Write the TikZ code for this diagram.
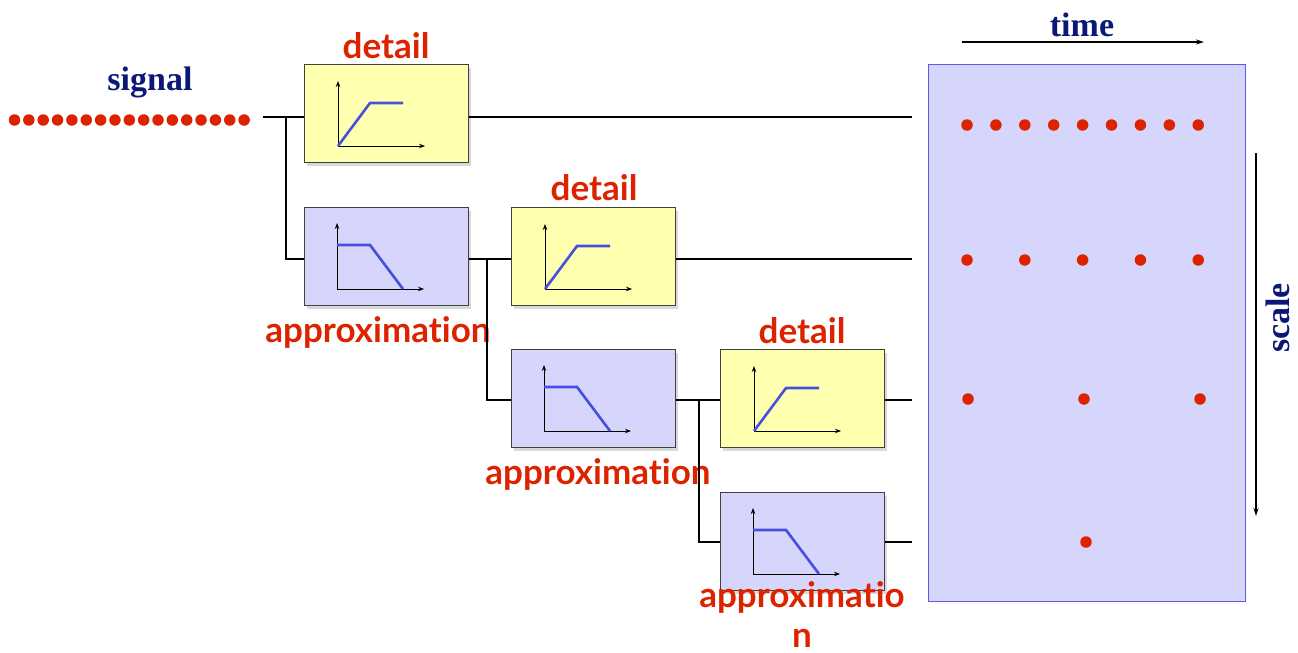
\documentclass[tikz,border=0pt]{standalone}
\usepackage{fontspec}
\setmainfont{Liberation Serif}
\newfontfamily\labfont[Ligatures=NoCommon]{Lato}
\newfontfamily\axfont{Liberation Serif}
\usetikzlibrary{arrows.meta,shadows}
\definecolor{sigred}{RGB}{221,34,0}
\definecolor{navyb}{RGB}{12,24,120}
\definecolor{boxyel}{RGB}{255,255,176}
\definecolor{boxlav}{RGB}{214,214,252}
\definecolor{plotblue}{RGB}{70,80,220}
\definecolor{panelb}{RGB}{90,90,230}
\tikzset{
  x=1pt, y=-1pt,
  filt/.style={draw=black!75, line width=1pt, minimum width=164pt, minimum height=98pt, inner sep=0pt, anchor=north west,
    drop shadow={shadow xshift=2pt, shadow yshift=-3pt, opacity=0.25, fill=black!60}},
  detbox/.style={filt, fill=boxyel},
  appbox/.style={filt, fill=boxlav},
  wire/.style={line width=2.6pt, black},
  redlab/.style={text=sigred, font=\labfont\bfseries\fontsize{35}{35}\selectfont, inner sep=0pt},
  bluelab/.style={text=navyb, font=\axfont\bfseries\fontsize{34}{34}\selectfont, inner sep=0pt},
  dot/.style={circle, fill=sigred, inner sep=0pt, minimum size=11.5pt},
  axis/.style={line width=0.9pt, -{Stealth[length=6pt,width=4.5pt]}},
  curve/.style={plotblue, line width=2.6pt},
  pics/rampgraph/.style={code={
    \draw[axis] (34,82) -- (34,17);
    \draw[axis] (34,82) -- (121,82);
    \draw[curve] (34,82) -- (66,39) -- (99,39);
  }},
  pics/lowgraph/.style={code={
    \draw[axis] (33,82) -- (33,16);
    \draw[axis] (33,82) -- (120,82);
    \draw[curve] (33,38) -- (66,38) -- (99,82);
  }}
}
\begin{document}
\begin{tikzpicture}
\useasboundingbox (0,0) rectangle (1298,653);

% signal
\node[bluelab] (sig) at (150,82) {signal};
\foreach \i in {0,...,16} {\node[dot] (s\i) at ({14.5+\i*14.35},120) {};}

% boxes
\node[detbox] (b1) at (304,64) {};
\node[appbox] (b2) at (304,207) {};
\node[detbox] (b3) at (511,207) {};
\node[appbox] (b4) at (511,349) {};
\node[detbox] (b5) at (720,349) {};
\node[appbox] (b6) at (720,492) {};

\pic at (b1.north west) {rampgraph};
\pic at (b3.north west) {rampgraph};
\pic at (b5.north west) {rampgraph};
\pic at (b2.north west) {lowgraph};
\pic at (b4.north west) {lowgraph};
\pic at (b6.north west) {lowgraph};

% labels
\node[redlab] (l1) at (386,46) {detail};
\node[redlab] (l2) at (594,188) {detail};
\node[redlab] (l3) at (802,331) {detail};
\node[redlab] (l4) at (378,332) {approximation};
\node[redlab] (l5) at (598,474) {approximation};
\node[redlab] (l6) at (802,597) {approximatio};
\node[redlab] (l7) at (802,638) {n};

% wires
\coordinate (j0) at (263,117);
\coordinate (j1) at (286,117);
\coordinate (j2) at (487,259);
\coordinate (j3) at (699,400);
\coordinate (e1) at (912,117);
\coordinate (e2) at (912,259);
\coordinate (e3) at (912,400);
\coordinate (e4) at (912,542);
\draw[wire] (j0) -- (b1.west |- j0);
\draw[wire] (b1.east |- e1) -- (e1);
\draw[wire] (j1) |- (b2.west |- e2);
\draw[wire] (b2.east |- e2) -- (b3.west |- e2);
\draw[wire] (b3.east |- e2) -- (e2);
\draw[wire] (j2) |- (b4.west |- e3);
\draw[wire] (b4.east |- e3) -- (b5.west |- e3);
\draw[wire] (b5.east |- e3) -- (e3);
\draw[wire] (j3) |- (b6.west |- e4);
\draw[wire] (b6.east |- e4) -- (e4);

% time-scale panel
\node[draw=panelb, fill=boxlav, line width=1pt, minimum width=317pt, minimum height=537pt, inner sep=0pt, anchor=north west] (panel) at (928,64) {};
\foreach \i in {0,...,8} {\node[dot] (r1\i) at ({967+\i*28.9},125) {};}
\foreach \i in {0,...,4} {\node[dot] (r2\i) at ({967+\i*57.8},260) {};}
\foreach \i in {0,...,2} {\node[dot] (r3\i) at ({968+\i*116},399) {};}
\node[dot] (r40) at (1086,542) {};

\node[bluelab] (time) at (1082,25) {time};
\coordinate (t0) at (962,42);
\coordinate (t1) at (1204,42);
\draw[line width=1.1pt, -{Stealth[length=8pt,width=5pt]}] (t0) -- (t1);
\coordinate (c0) at (1256,153);
\coordinate (c1) at (1256,516);
\draw[line width=1.1pt, -{Stealth[length=8pt,width=5pt]}] (c0) -- (c1);
\node[bluelab, rotate=90] (scale) at (1278,318) {scale};
\end{tikzpicture}
\end{document}
